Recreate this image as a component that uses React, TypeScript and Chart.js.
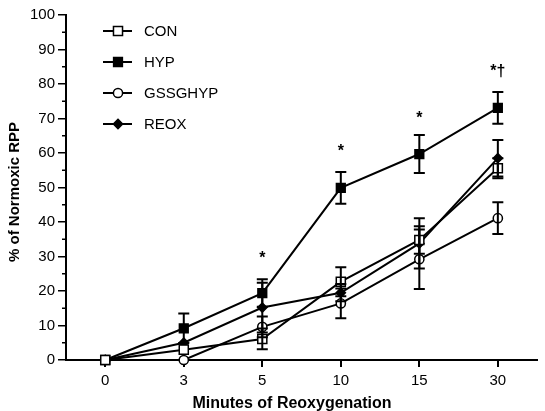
import React, { useEffect, useRef } from 'react';
import { Chart, registerables } from 'chart.js';

Chart.register(...registerables);

// ---- data ----
const categories = ['0', '3', '5', '10', '15', '30'];
const yTicks = [0, 10, 20, 30, 40, 50, 60, 70, 80, 90, 100];
const yMinorTicks = [5, 15, 25, 35, 45, 55, 65, 75, 85, 95];

const conValues = [0, 3.0, 6.1, 22.7, 34.8, 55.6];
const conErrors = [0, 0, 3.0, 4.2, 4.0, 2.9];
const hypValues = [0, 9.2, 19.4, 49.9, 59.7, 73.1];
const hypErrors = [0, 4.3, 4.0, 4.6, 5.5, 4.6];
const gssgValues = [0, 0, 9.6, 16.4, 29.2, 41.1];
const gssgErrors = [0, 0, 3.0, 4.3, 8.6, 4.6];
const reoxValues = [0, 5.0, 15.2, 19.5, 33.8, 58.5];
const reoxErrors = [0, 0, 7.2, 2.5, 7.3, 5.3];

const sigTexts = ['', '', '*', '*', '*', '*\u2020'];
const sigLevels = [null, null, 29.3, 60.3, 70.0, 83.6];

const seriesNames = ['CON', 'HYP', 'GSSGHYP', 'REOX'];
const xTitle = 'Minutes of Reoxygenation';
const yTitle = '% of Normoxic RPP';

const FONT = '"Liberation Sans", Arial, Helvetica, sans-serif';

const errorsBySeries = [conErrors, hypErrors, gssgErrors, reoxErrors];
const markerStyles = [
  { style: 'rect', fill: '#ffffff', radius: 6.4 },
  { style: 'rect', fill: '#000000', radius: 6.2 },
  { style: 'circle', fill: '#ffffff', radius: 4.6 },
  { style: 'rectRot', fill: '#000000', radius: 4.6 },
];

function drawMarker(ctx: CanvasRenderingContext2D, style: string, x: number, y: number, r: number, fill: string) {
  ctx.save();
  ctx.beginPath();
  if (style === 'circle') {
    ctx.arc(x, y, r, 0, Math.PI * 2);
  } else if (style === 'rect') {
    const s = Math.SQRT1_2 * r;
    ctx.rect(x - s, y - s, 2 * s, 2 * s);
  } else {
    ctx.moveTo(x, y - r);
    ctx.lineTo(x + r, y);
    ctx.lineTo(x, y + r);
    ctx.lineTo(x - r, y);
    ctx.closePath();
  }
  ctx.fillStyle = fill;
  ctx.fill();
  ctx.lineWidth = 1.5;
  ctx.strokeStyle = '#000';
  ctx.stroke();
  ctx.restore();
}

const errorBarPlugin = {
  id: 'errorBars',
  afterDatasetsDraw(chart: any) {
    const ctx = chart.ctx as CanvasRenderingContext2D;
    const yScale = chart.scales.y;
    ctx.save();
    ctx.strokeStyle = '#000';
    ctx.lineWidth = 2;
    chart.data.datasets.forEach((ds: any, i: number) => {
      const meta = chart.getDatasetMeta(i);
      const errs = errorsBySeries[i];
      ds.data.forEach((v: number, j: number) => {
        const e = errs[j];
        if (!e) return;
        const x = meta.data[j].x;
        const yt = yScale.getPixelForValue(v + e);
        const yb = yScale.getPixelForValue(v - e);
        ctx.beginPath();
        ctx.moveTo(x, yt);
        ctx.lineTo(x, yb);
        ctx.moveTo(x - 5.5, yt);
        ctx.lineTo(x + 5.5, yt);
        ctx.moveTo(x - 5.5, yb);
        ctx.lineTo(x + 5.5, yb);
        ctx.stroke();
      });
    });
    ctx.restore();
  },
};

const decorPlugin = {
  id: 'decor',
  afterDraw(chart: any) {
    const ctx = chart.ctx as CanvasRenderingContext2D;
    const { x: xScale, y: yScale } = chart.scales;
    const area = chart.chartArea;
    ctx.save();
    // minor ticks
    ctx.strokeStyle = '#000';
    ctx.lineWidth = 1.5;
    yMinorTicks.forEach((v) => {
      const y = yScale.getPixelForValue(v);
      ctx.beginPath();
      ctx.moveTo(area.left - 4, y);
      ctx.lineTo(area.left, y);
      ctx.stroke();
    });
    // significance marks
    ctx.fillStyle = '#000';
    ctx.font = 'bold 16px ' + FONT;
    ctx.textAlign = 'center';
    ctx.textBaseline = 'middle';
    sigTexts.forEach((t, j) => {
      const lv = sigLevels[j];
      if (!t || lv === null) return;
      ctx.fillText(t, xScale.getPixelForValue(j), yScale.getPixelForValue(lv));
    });
    // legend
    const rows = [31, 62, 93, 124];
    ctx.font = '15px ' + FONT;
    ctx.textAlign = 'left';
    seriesNames.forEach((name, i) => {
      const y = rows[i];
      ctx.strokeStyle = '#000';
      ctx.lineWidth = 2;
      ctx.beginPath();
      ctx.moveTo(103, y);
      ctx.lineTo(132, y);
      ctx.stroke();
      const m = markerStyles[i];
      drawMarker(ctx, m.style, 118, y, m.radius, m.fill);
      ctx.fillStyle = '#000';
      ctx.fillText(name, 144, y + 1);
    });
    // axis titles
    ctx.fillStyle = '#000';
    ctx.font = 'bold 16px ' + FONT;
    ctx.textAlign = 'center';
    ctx.fillText(xTitle, 292, 404);
    ctx.save();
    ctx.translate(15, 192);
    ctx.rotate(-Math.PI / 2);
    ctx.font = 'bold 15px ' + FONT;
    ctx.fillText(yTitle, 0, 0);
    ctx.restore();
    ctx.restore();
  },
};

export default function App() {
  const ref = useRef<HTMLCanvasElement>(null);
  useEffect(() => {
    const allValues = [conValues, hypValues, gssgValues, reoxValues];
    const chart = new Chart(ref.current as HTMLCanvasElement, {
      type: 'line',
      data: {
        labels: categories,
        datasets: seriesNames.map((name, i) => ({
          label: name,
          data: allValues[i],
          borderColor: '#000',
          borderWidth: 2,
          tension: 0,
          pointStyle: markerStyles[i].style as any,
          pointRadius: markerStyles[i].radius,
          pointBackgroundColor: markerStyles[i].fill,
          pointBorderColor: '#000',
          pointBorderWidth: 1.5,
          clip: false as any,
        })),
      },
      options: {
        responsive: false,
        animation: false,
        layout: { padding: { top: 15, right: 0, left: 0, bottom: 0 } },
        plugins: {
          legend: { display: false },
          tooltip: { enabled: false },
        },
        scales: {
          x: {
            type: 'category',
            offset: true,
            afterFit: (s: any) => { s.height = 51; },
            grid: { drawOnChartArea: false, drawTicks: true, tickLength: 7, color: '#000', lineWidth: 2 },
            border: { color: '#000', width: 2 },
            ticks: { color: '#000', font: { family: FONT, size: 15 }, padding: 5, maxRotation: 0 },
          },
          y: {
            min: 0,
            max: 100,
            afterFit: (s: any) => { s.width = 66; },
            afterBuildTicks: (s: any) => { s.ticks = yTicks.map((v) => ({ value: v })); },
            grid: { drawOnChartArea: false, drawTicks: true, tickLength: 8, color: '#000', lineWidth: 1.5 },
            border: { color: '#000', width: 2 },
            ticks: { color: '#000', font: { family: FONT, size: 15 }, padding: 3 },
          },
        },
      },
      plugins: [errorBarPlugin, decorPlugin],
    });
    return () => chart.destroy();
  }, []);
  return (
    <div style={{ position: 'absolute', left: 0, top: 0, width: 545, height: 411, background: '#fff' }}>
      <canvas ref={ref} width={545} height={411} style={{ display: 'block' }} />
    </div>
  );
}
